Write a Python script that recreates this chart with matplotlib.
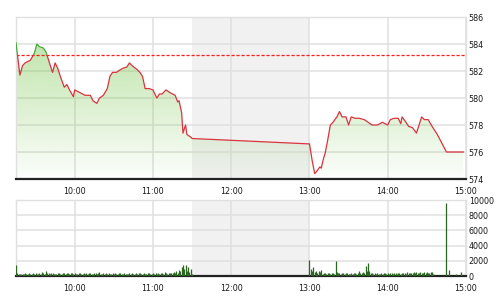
import matplotlib
matplotlib.use('Agg')
import matplotlib.pyplot as plt
import numpy as np
from matplotlib.patches import Rectangle

# ---------------- data ----------------
price_times = ["09:15", "09:18", "09:20", "09:22", "09:24", "09:26", "09:29", "09:31", "09:33", "09:36",
               "09:38", "09:40", "09:43", "09:45", "09:47", "09:49", "09:52", "09:54", "09:56", "09:59",
               "10:00", "10:04", "10:08", "10:12", "10:14", "10:17", "10:19", "10:22", "10:25", "10:27",
               "10:29", "10:32", "10:35", "10:37", "10:40", "10:42", "10:44", "10:48", "10:50", "10:52",
               "10:54", "10:57", "11:00", "11:03", "11:05", "11:07", "11:10", "11:13", "11:15", "11:17",
               "11:19", "11:20", "11:22", "11:23", "11:25", "11:26", "11:29", "11:30",
               "13:00", "13:02", "13:04", "13:05", "13:08", "13:09", "13:11", "13:12", "13:14", "13:16",
               "13:18", "13:21", "13:23", "13:25", "13:28", "13:30", "13:32", "13:35", "13:38", "13:42",
               "13:45", "13:48", "13:52", "13:56", "14:00", "14:02", "14:05", "14:08", "14:10", "14:11",
               "14:14", "14:16", "14:19", "14:22", "14:24", "14:26", "14:28", "14:31", "14:34", "14:38",
               "14:45", "14:58"]
price_values = [584.1, 581.7, 582.4, 582.6, 582.7, 582.8, 583.3, 584.0, 583.8, 583.7,
                583.4, 582.8, 581.9, 582.6, 582.2, 581.6, 580.8, 581.0, 580.6, 580.1,
                580.6, 580.4, 580.2, 580.2, 579.8, 579.6, 580.0, 580.2, 580.7, 581.6,
                581.9, 581.9, 582.1, 582.2, 582.3, 582.6, 582.4, 582.1, 581.9, 581.6,
                580.7, 580.7, 580.6, 580.0, 580.3, 580.3, 580.6, 580.4, 580.3, 580.2,
                579.7, 579.8, 578.9, 577.4, 578.0, 577.3, 577.1, 577.0,
                576.6, 575.4, 574.4, 574.5, 574.9, 574.8, 575.6, 575.9, 576.9, 578.0,
                578.2, 578.6, 579.0, 578.6, 578.6, 578.0, 578.6, 578.5, 578.5, 578.4,
                578.2, 578.0, 578.0, 578.2, 578.0, 578.4, 578.5, 578.5, 578.1, 578.6,
                578.2, 577.9, 577.8, 577.4, 578.0, 578.6, 578.4, 578.4, 577.9, 577.3,
                576.0, 576.0]
prev_close = 583.2

vol_am_start = "09:15"
vol_am = [1500, 350, 250, 300, 200, 300, 250, 350, 250, 300,
          400, 300, 250, 350, 300, 450, 300, 250, 350, 300,
          500, 350, 300, 600, 400, 350, 300, 450, 350, 300,
          250, 300, 400, 350, 300, 250, 350, 400, 300, 350,
          450, 300, 350, 400, 300, 350, 250, 300, 400, 350,
          300, 250, 350, 300, 450, 300, 400, 350, 300, 250,
          350, 400, 300, 350, 500, 300, 250, 350, 300, 400,
          300, 350, 250, 300, 450, 300, 350, 250, 300, 350,
          400, 300, 250, 350, 300, 300, 250, 400, 300, 350,
          300, 250, 350, 300, 400, 350, 300, 250, 350, 300,
          300, 350, 400, 300, 250, 350, 300, 450, 300, 350,
          300, 400, 350, 300, 500, 350, 300, 400, 450, 350,
          400, 500, 350, 600, 450, 800, 700, 1200, 1500, 900,
          1400, 700, 1200, 500, 900, 300]
vol_pm_start = "13:00"
vol_pm = [2100, 900, 600, 1200, 500, 700, 400, 600, 500, 800,
          300, 400, 350, 300, 450, 350, 300, 400, 350, 300,
          2000, 500, 400, 350, 300, 450, 350, 300, 400, 350,
          300, 250, 350, 300, 400, 350, 300, 450, 600, 400,
          350, 500, 400, 1300, 600, 1700, 700, 400, 350, 300,
          400, 300, 350, 300, 250, 350, 300, 400, 350, 300,
          350, 300, 400, 350, 300, 450, 350, 300, 400, 350,
          300, 400, 350, 450, 300, 500, 400, 350, 450, 400,
          500, 400, 550, 450, 400, 500, 450, 400, 550, 450,
          500, 400, 450, 500, 550, 300, 0, 0, 0, 0,
          0, 0, 0, 0, 0, 9600, 0, 800, 0, 0,
          0, 0, 300, 0, 0, 0, 500, 0, 0, 0]

x_tick_labels = ["10:00", "11:00", "12:00", "13:00", "14:00", "15:00"]
price_ticks = [574, 576, 578, 580, 582, 584, 586]
vol_ticks = [0, 2000, 4000, 6000, 8000, 10000]
session_start, session_end = "09:15", "15:00"
lunch_start, lunch_end = "11:30", "13:00"


def to_min(s):
    h, m = s.split(":")
    return int(h) * 60 + int(m)


px = np.array([to_min(t) for t in price_times], dtype=float)
py = np.array(price_values)
vx_am = to_min(vol_am_start) + np.arange(len(vol_am))
vx_pm = to_min(vol_pm_start) + np.arange(len(vol_pm))
vx = np.concatenate([vx_am, vx_pm])
vy = np.array(vol_am + vol_pm)
xticks = [to_min(t) for t in x_tick_labels]
x0, x1 = to_min(session_start), to_min(session_end)

# ---------------- figure ----------------
fig = plt.figure(figsize=(5, 3), dpi=100)
ax1 = fig.add_axes([0.032, 0.4033, 0.9, 0.54])
ax2 = fig.add_axes([0.032, 0.08, 0.9, 0.2533])

GRID = '#e0e0e0'
for ax in (ax1, ax2):
    ax.set_xlim(x0, x1)
    ax.axvspan(to_min(lunch_start), to_min(lunch_end), color='#f1f1f1', lw=0, zorder=0)
    ax.set_xticks(xticks)
    ax.set_xticklabels(x_tick_labels)
    ax.yaxis.tick_right()
    ax.tick_params(axis='both', length=0, labelsize=5.8, colors='#1a1a1a')
    ax.tick_params(axis='x', pad=6)
    ax.tick_params(axis='y', pad=2)
    ax.grid(True, color=GRID, lw=1.1, zorder=0.5)
    ax.set_axisbelow(True)
    for s in ('top', 'left', 'right'):
        ax.spines[s].set_color(GRID)
        ax.spines[s].set_linewidth(1.0)
    ax.spines['bottom'].set_color('#222222')
    ax.spines['bottom'].set_linewidth(1.6)
    ax.set_facecolor('white')

# price axis
ax1.set_ylim(price_ticks[0], price_ticks[-1])
ax1.set_yticks(price_ticks)

# gradient fill under line
fb = ax1.fill_between(px, py, price_ticks[0], facecolor='none', edgecolor='none')
n = 256
grad = np.zeros((n, 1, 4))
grad[:, 0, 0] = 124 / 255
grad[:, 0, 1] = 200 / 255
grad[:, 0, 2] = 80 / 255
grad[:, 0, 3] = np.linspace(0.02, 0.56, n)
img = ax1.imshow(grad, extent=[x0, x1, price_ticks[0], price_ticks[-1]], aspect='auto',
                 origin='lower', zorder=1, interpolation='bilinear')
img.set_clip_path(fb.get_paths()[0], transform=ax1.transData)

# line: red below prev close, green above
red_line, = ax1.plot(px, py, color='#d9343f', lw=0.9, zorder=3)
clip_lo = Rectangle((x0, price_ticks[0]), x1 - x0, prev_close - price_ticks[0], transform=ax1.transData)
red_line.set_clip_path(clip_lo)
green_line, = ax1.plot(px, py, color='#45a83a', lw=0.9, zorder=3)
clip_hi = Rectangle((x0, prev_close), x1 - x0, price_ticks[-1] - prev_close, transform=ax1.transData)
green_line.set_clip_path(clip_hi)

ax1.axhline(prev_close, color='#ff1a1a', lw=0.9, ls=(0, (2.5, 1.5)), zorder=2.5)

# volume axis
ax2.set_ylim(vol_ticks[0], vol_ticks[-1])
ax2.set_yticks(vol_ticks)
ax2.vlines(vx, 0, vy, color='#2a6620', lw=0.9, zorder=3)

fig.savefig('out.png', dpi=100)
